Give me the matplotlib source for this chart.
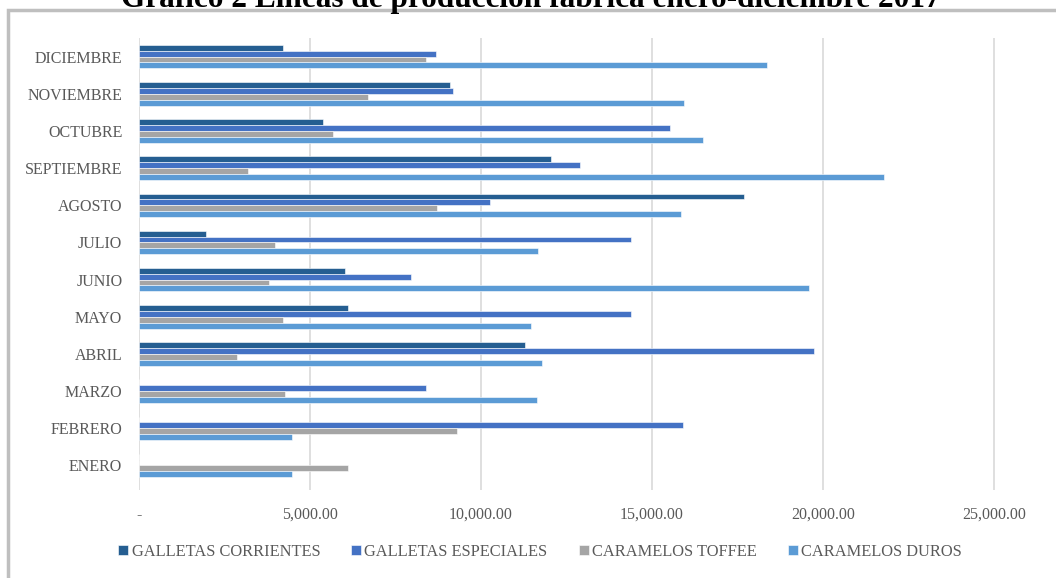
import numpy as np
import matplotlib
matplotlib.use("Agg")
import matplotlib.pyplot as plt
from matplotlib.patches import Rectangle
from matplotlib.ticker import FuncFormatter

plt.rcParams['font.family'] = ['Liberation Serif', 'DejaVu Serif']

meses = ["ENERO", "FEBRERO", "MARZO", "ABRIL", "MAYO", "JUNIO",
         "JULIO", "AGOSTO", "SEPTIEMBRE", "OCTUBRE", "NOVIEMBRE", "DICIEMBRE"]
series = ["GALLETAS CORRIENTES", "GALLETAS ESPECIALES",
          "CARAMELOS TOFFEE", "CARAMELOS DUROS"]

galletas_corrientes = [0, 0, 0, 11280, 6100, 6010, 1950, 17690, 12060, 5375, 9095, 4205]
galletas_especiales = [0, 15910, 8380, 19740, 14385, 7945, 14385, 10265, 12890, 15530, 9175, 8670]
caramelos_toffee = [6100, 9295, 4255, 2870, 4225, 3810, 3990, 8720, 3195, 5685, 6705, 8390]
caramelos_duros = [4475, 4475, 11645, 11790, 11460, 19590, 11675, 15845, 21775, 16480, 15935, 18355]

colores = ["#255E91", "#4472C4", "#A5A5A5", "#5B9BD5"]
gris_texto = "#595959"

fig = plt.figure(figsize=(10.56, 5.78), dpi=100)
W, H = 1056, 578

# marco exterior del grafico
fig.patches.append(Rectangle((8 / W, -0.05), 1.1, (H - 10) / H + 0.05,
                             transform=fig.transFigure, fill=False,
                             edgecolor="#BFBFBF", linewidth=2.5))

ax = fig.add_axes([139 / W, (H - 490) / H, (1040 - 139) / W, (490 - 38) / H])

y = np.arange(len(meses))
h = 0.158
valores = [galletas_corrientes, galletas_especiales, caramelos_toffee, caramelos_duros]
offsets = [1.5 * h, 0.5 * h, -0.5 * h, -1.5 * h]
for vals, off, col, nombre in zip(valores, offsets, colores, series):
    ax.barh(y + off, vals, height=h, color=col, label=nombre,
            edgecolor="white", linewidth=0.4, zorder=3)

ax.set_xlim(0, 25000 * (1040 - 139) / (994 - 139))
ax.set_ylim(-0.66, 11.5)
ax.set_xticks([0, 5000, 10000, 15000, 20000, 25000])
ax.xaxis.set_major_formatter(FuncFormatter(lambda v, p: "-" if v == 0 else f"{v:,.2f}"))
ax.set_yticks(y)
ax.set_yticklabels(meses)
ax.grid(axis="x", color="#D9D9D9", linewidth=1.2, zorder=0)
for s in ax.spines.values():
    s.set_visible(False)
ax.tick_params(axis="both", length=0, labelsize=11.5, colors=gris_texto)
ax.tick_params(axis="x", pad=12)
ax.tick_params(axis="y", pad=12)

# titulo cortado por el borde superior, como en la imagen original
fig.text(531 / W, 1 - 7 / H, "Gráfico 2 Líneas de producción fábrica enero-diciembre 2017",
         ha="center", va="baseline", fontsize=22.5, fontweight="bold", color="black")

fig.legend(loc="center", bbox_to_anchor=(540 / W, 1 - 552 / H), ncol=4, frameon=False,
           fontsize=11.8, handlelength=0.6, handleheight=0.6, handletextpad=0.2,
           columnspacing=1.9, labelcolor=gris_texto)

plt.savefig("out.png", dpi=100)
